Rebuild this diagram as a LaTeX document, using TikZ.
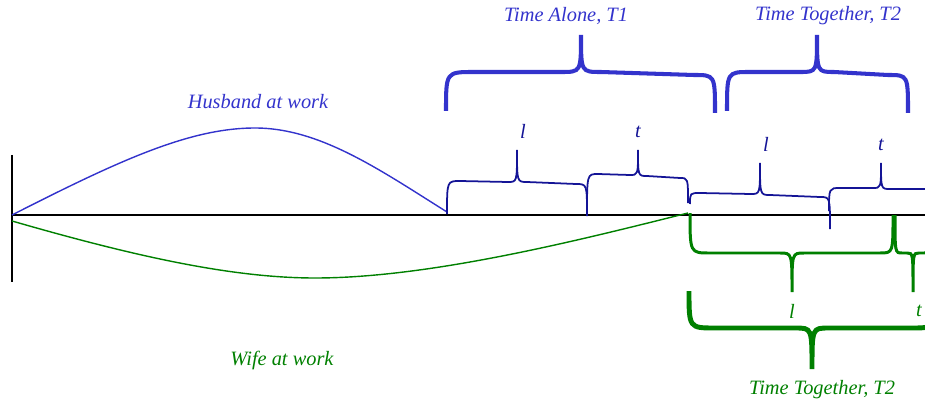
\documentclass[tikz,border=0pt]{standalone}
\usepackage{fontspec}
\setmainfont{Liberation Serif}
\usetikzlibrary{positioning}

\definecolor{hubblue}{RGB}{51,51,204}
\definecolor{navyline}{RGB}{20,20,150}
\definecolor{wifegreen}{RGB}{0,128,0}

\begin{document}
\begin{tikzpicture}[
    x=0.02cm, y=-0.02cm,
    font=\itshape\fontsize{11.6}{14}\selectfont,
    axisline/.style={draw=black, line width=0.9pt},
    workcurve/.style={line width=0.8pt},
    bigbrace/.style={draw=hubblue, line width=2.3pt},
    midbrace/.style={draw=navyline, line width=1pt},
    greenbrace/.style={draw=wifegreen, line width=1.7pt},
    biggreen/.style={draw=wifegreen, line width=2.8pt},
    bluetext/.style={text=hubblue},
    navytext/.style={text=navyline},
    greentext/.style={text=wifegreen}
]
    \clip (0,0) rectangle (925,405);

    % Axes
    \draw[axisline] (12,155) -- (12,282);
    \draw[axisline] (12,215) -- (925,215);

    % Work curves
    \draw[workcurve, draw=hubblue] (12,215) .. controls (120,160) and (190,128) .. (255,128)
        .. controls (320,128) and (380,170) .. (447,212);
    \draw[workcurve, draw=wifegreen] (12,221) .. controls (130,255) and (230,278) .. (315,278)
        .. controls (430,278) and (580,240) .. (688,213);

    \node[bluetext] (husband) at (258,102) {Husband at work};
    \node[greentext] (wife) at (282,360) {Wife at work};

    % Time alone / time together (top)
    \draw[bigbrace] (446,111) .. controls (446,72) .. (474,72) -- (561,72) .. controls (581,72) .. (581,35)
        .. controls (581,72) .. (601,72) -- (694,75) .. controls (715,75) .. (715,113);
    \draw[bigbrace] (727,111) .. controls (727,72) .. (750,72) -- (800,72) .. controls (817,72) .. (817,35)
        .. controls (817,72) .. (834,72) -- (888,75) .. controls (908,75) .. (908,113);
    \node[bluetext] (alone) at (566,16) {Time Alone, T1};
    \node[bluetext] (together) at (828,16) {Time Together, T2};

    % l and t for the husband
    \draw[midbrace] (447,214) .. controls (447,181) .. (460,181) -- (508,182) .. controls (517,182) .. (517,150)
        .. controls (517,182) .. (527,182) -- (576,184) .. controls (587,184) .. (587,216);
    \draw[midbrace] (587,215) .. controls (587,174) .. (598,174) -- (630,175) .. controls (638,175) .. (638,150)
        .. controls (638,176) .. (647,176) -- (680,178) .. controls (688,178) .. (688,203);
    \draw[midbrace] (690,204) .. controls (690,193) .. (700,193) -- (751,194) .. controls (760,194) .. (760,163)
        .. controls (760,195) .. (770,195) -- (820,197) .. controls (830,197) .. (830,229);
    \draw[midbrace] (829,211) .. controls (829,188) .. (840,188) -- (873,188) .. controls (881,188) .. (881,163)
        .. controls (881,189) .. (890,189) -- (925,189) -- (940,190) .. controls (950,190) .. (950,215);
    \node[navytext] (l1) at (523,131) {l};
    \node[navytext] (t1) at (638,132) {t};
    \node[navytext] (l2) at (766,144) {l};
    \node[navytext] (t2) at (881,145) {t};

    % l and t for the wife
    \draw[greenbrace] (690,213) .. controls (690,253) .. (710,253) -- (780,253) .. controls (792,253) .. (792,292)
        .. controls (792,253) .. (804,253) -- (880,253) .. controls (893,253) .. (893,215);
    \draw[greenbrace] (895,215) .. controls (895,253) .. (902,253) -- (907,253) .. controls (913,253) .. (913,292)
        .. controls (913,253) .. (919,253) -- (924,253) .. controls (931,253) .. (931,215);
    \node[greentext] (gl) at (792,311) {l};
    \node[greentext] (gt) at (919,311) {t};

    % Time together for the wife
    \draw[biggreen] (689,291) .. controls (689,328) .. (715,328) -- (795,328) .. controls (812,328) .. (812,369)
        .. controls (812,328) .. (829,328) -- (912,328) .. controls (935,328) .. (935,291);
    \node[greentext] (wtogether) at (822,390) {Time Together, T2};

\end{tikzpicture}
\end{document}
